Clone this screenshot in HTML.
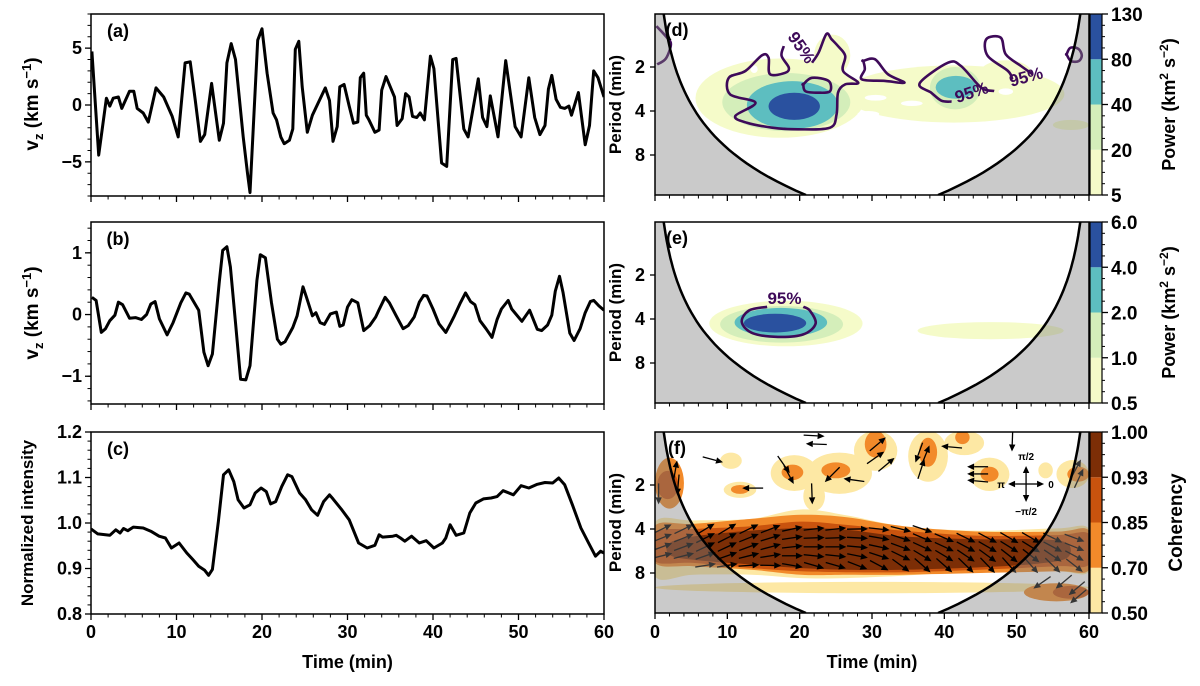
<!DOCTYPE html>
<html><head><meta charset="utf-8">
<style>
html,body{margin:0;padding:0;background:#fff;}
svg{display:block;font-family:"Liberation Sans",Arial,sans-serif;font-weight:bold;}
</style></head>
<body>
<svg id="fig" width="1200" height="686" viewBox="0 0 1200 686" xmlns="http://www.w3.org/2000/svg"></svg>
<script>
// ---------- data: panel (a) vz ----------
const aT=[0.1,0.9,1.8,2.2,2.6,3.2,3.6,4.5,5.0,5.4,6.1,6.7,7.6,8.5,9.5,10.2,11.0,11.6,12.2,12.8,13.3,14.1,15.0,15.5,15.9,16.4,16.9,17.8,18.3,18.6,19.5,20.0,20.6,21.3,21.7,22.2,22.6,23.2,23.6,23.9,24.3,24.7,25.3,25.9,27.4,27.9,28.3,28.8,29.1,29.6,30.2,30.7,31.2,31.5,31.9,32.2,32.5,33.2,33.7,34.0,34.5,35.5,35.8,36.4,36.8,37.2,37.6,38.1,38.5,39.0,39.7,40.1,41.0,41.6,42.3,42.7,43.6,44.1,45.3,45.8,46.3,46.7,47.6,48.5,49.6,50.3,51.2,51.9,52.5,53.1,53.5,53.9,54.4,54.9,55.4,55.9,56.2,57.0,57.8,58.3,58.8,59.3,60.0];
const aV=[4.7,-4.4,0.6,-0.1,0.6,0.7,-0.3,1.2,1.2,-0.3,-0.7,-1.5,1.5,0.7,-1.0,-2.8,3.7,3.8,0.4,-3.2,-2.6,1.9,-3.1,-1.6,3.7,5.4,4.0,-2.8,-6.0,-7.7,5.7,6.7,2.8,-0.7,-1.3,-2.8,-3.4,-3.1,-2.1,4.9,5.6,1.6,-2.4,-0.9,1.5,0.4,-3.2,-1.9,1.6,1.8,-0.1,-1.6,-1.5,2.4,2.8,-0.9,-1.3,-2.4,-2.2,1.3,2.5,0.7,-1.8,-1.2,1.0,0.7,-1.0,-1.1,-0.7,-1.3,4.3,3.2,-5.1,-5.4,4.0,4.1,-2.1,-2.8,2.3,-1.1,-1.9,0.8,-2.8,3.9,-1.9,-2.8,2.4,-1.1,-2.6,-1.8,1.4,2.6,0.5,-0.2,-0.3,-0.1,-0.9,1.1,-3.5,-1.8,3.0,2.4,0.7];
// ---------- data: panel (b) filtered vz ----------
const bT=[0.1,0.6,1.2,1.7,2.2,2.8,3.2,3.7,4.5,5.2,5.9,6.5,7.0,7.5,8.0,8.9,9.6,10.5,11.1,11.5,12.6,13.2,13.7,14.2,15.0,15.4,15.9,16.3,16.9,17.5,18.1,18.6,19.4,19.8,20.4,21.1,21.8,22.2,22.7,23.6,24.1,24.8,25.2,25.9,26.3,26.8,27.3,28.0,28.7,29.1,29.5,30.0,30.5,31.2,31.9,32.6,33.3,33.7,34.4,34.9,35.7,36.5,37.1,37.8,38.4,38.9,39.3,40.0,40.7,41.5,42.1,42.5,43.2,43.8,44.4,44.9,45.5,46.2,46.9,47.5,48.0,48.8,49.2,50.4,51.3,52.2,52.7,53.4,53.9,54.3,54.8,55.2,56.0,56.5,57.2,57.8,58.4,58.8,59.4,60.0];
const bV=[0.28,0.23,-0.29,-0.23,-0.10,-0.01,0.20,0.16,-0.06,-0.05,-0.08,0.0,0.17,0.21,-0.07,-0.33,-0.13,0.19,0.35,0.33,0.07,-0.61,-0.83,-0.64,0.53,1.04,1.10,0.77,-0.13,-1.05,-1.06,-0.83,0.55,0.97,0.92,0.20,-0.40,-0.48,-0.44,-0.21,-0.02,0.45,0.28,-0.02,0.03,-0.13,-0.16,0.01,0.04,-0.19,-0.17,0.12,0.24,0.19,-0.26,-0.18,-0.04,0.08,0.28,0.19,-0.02,-0.23,-0.18,-0.04,0.20,0.31,0.30,0.09,-0.15,-0.29,-0.13,-0.02,0.19,0.35,0.21,0.16,-0.10,-0.23,-0.37,-0.08,0.09,0.23,0.09,-0.11,0.07,-0.24,-0.26,-0.17,-0.01,0.38,0.62,0.36,-0.30,-0.42,-0.23,0.03,0.21,0.23,0.14,0.07];
// ---------- data: panel (c) normalized intensity ----------
const cT=[0,0.8,2.2,2.9,3.4,3.8,4.3,4.95,6.1,7.0,7.96,8.7,9.4,10.3,11.2,11.9,12.6,13.3,13.75,14.2,14.9,15.5,16.1,16.7,17.2,17.9,18.6,19.2,19.9,20.5,21.0,21.6,22.3,23.0,23.5,24.4,25.1,25.8,26.5,27.2,27.9,28.3,29.25,30.2,31.3,32.3,33.2,33.7,34.1,35.3,35.7,36.2,36.7,37.5,38.4,39.2,40.1,41.1,41.5,42.0,42.7,43.6,44.3,45.0,45.9,46.8,47.5,48.2,49.4,50.3,51.2,52.2,53.1,54.0,54.7,55.4,56.3,57.3,58.2,59.0,59.6,60.0];
const cV=[0.987,0.976,0.973,0.985,0.978,0.988,0.983,0.991,0.989,0.982,0.971,0.967,0.945,0.956,0.934,0.920,0.905,0.896,0.885,0.898,1.004,1.106,1.117,1.091,1.051,1.033,1.040,1.066,1.077,1.069,1.042,1.047,1.080,1.106,1.102,1.066,1.051,1.029,1.017,1.047,1.062,1.053,1.031,1.007,0.956,0.945,0.951,0.974,0.969,0.971,0.973,0.967,0.960,0.971,0.956,0.961,0.945,0.956,0.967,0.996,0.973,0.978,1.022,1.044,1.053,1.055,1.058,1.071,1.062,1.082,1.077,1.085,1.089,1.088,1.099,1.084,1.040,0.989,0.956,0.927,0.938,0.934];
// ---------- tick labels ----------
const aTicks=[5,0,-5], bTicks=[1,0,-1], cTicks=[0.8,0.9,1.0,1.1,1.2];
const timeTicks=[0,10,20,30,40,50,60];
const periodTicks=[2,4,8];
const dLevels=["5","20","40","80","130"], eLevels=["0.5","1.0","2.0","4.0","6.0"], fLevels=["0.50","0.70","0.85","0.93","1.00"];
const coiK=0.72;
// ---------- wavelet power blobs: [t0,t1,P0,P1,level] ----------
const dBlobs=[[5.6,29,1.75,6.1,0],[26,56.6,1.95,4.8,0],[22,27,1.2,2.3,0],[55,60,4.6,5.4,0],[45,52,1.8,2.6,0],
  [13.2,14.2,1.95,2.2,-1],[20.5,23.5,2.5,2.85,-1],[29,32,3.1,3.4,-1],[34,37,3.4,3.7,-1],[28,31,4.0,4.4,-1],[47.5,49.5,2.8,3.1,-1],
  [9.3,27,2.2,5.5,1],[38,45,2.0,3.9,1],[12.7,25.3,2.5,5.3,2],[38.8,44.4,2.3,3.3,2],[15.7,22.8,3.0,4.6,3]];
const eBlobs=[[7.5,28.7,3.0,6.15,0],[36.3,56.5,4.2,5.5,0],[9,26,3.26,5.8,1],[11,23.8,3.36,5.3,2],[12.3,20.9,3.68,4.95,3]];
// 95% significance contours [t,P]
const dC1=[[17.8,1.44],[17.5,1.68],[18.5,2.02],[18.0,2.19],[15.9,2.24],[15.7,1.73],[14.8,1.66],[12.5,2.13],[10.2,2.37],[10.4,3.08],[13.9,3.51],[11.1,4.33],[12.7,4.81],[16.2,5.2],[19.8,5.34],[24.2,5.2],[25.1,4.21],[25.3,3.0],[26.3,2.63],[28.1,2.56],[26.0,2.13],[26.3,1.68],[25.3,1.44],[24.4,1.29],[23.7,1.19],[22.6,1.60],[21.7,1.87]];
const dC2=[[20.5,2.63],[21.7,2.37],[24.0,2.49],[24.2,2.93],[22.6,3.0],[20.8,2.93],[20.5,2.63]];
const dC3=[[28.8,1.82],[30.4,1.77],[32.2,2.24],[34.5,2.56],[31.8,2.49],[28.6,2.43],[29.0,2.07],[28.8,1.82]];
const dC4=[[41.0,3.45],[39.6,3.4],[38.2,3.0],[36.6,2.58],[40.5,1.87],[42.3,1.97],[45.1,2.77],[46.9,2.92]];
const dC5=[[49.4,2.43],[48.8,2.13],[46.0,1.68],[45.8,1.29],[47.8,1.26],[48.5,1.64],[50.6,1.97],[52.2,2.24]];
const dC6=[[56.9,1.64],[57.4,1.48],[58.5,1.5],[59.0,1.66],[58.6,1.82],[57.5,1.82],[56.9,1.64]];
const dC7=[[0.2,1.05],[1.6,1.25],[2.2,1.40],[1.5,1.75],[0.3,1.92]];
const eC1=[[15.5,3.3],[13.0,3.5],[12.0,4.2],[13.5,5.0],[17.0,5.3],[20.5,5.1],[22.2,4.3],[21.4,3.5],[20.5,3.3]];
// ---------- coherence band edges ----------
const fT=[0,5.3,13.3,20.2,26.5,34.4,45,55.6,60];
const f0Top=[3.60,3.50,3.41,2.94,3.23,3.83,4.11,3.96,4.0], f0Bot=[8.44,8.22,8.22,8.67,8.67,8.35,7.79,7.79,7.79];
const f1Top=[3.79,3.69,3.41,3.20,3.32,3.83,4.17,4.17,4.11], f1Bot=[6.82,7.19,7.59,8.22,8.22,8.22,8.0,7.79,7.59];
const f2Top=[4.22,4.0,3.83,3.56,3.75,4.11,4.45,4.40,4.33], f2Bot=[6.64,6.82,7.39,7.79,7.9,7.9,7.6,7.2,7.0];
const f3T=[2,5.3,13.3,20.2,26.5,34.4,45,53,57];
const f3Top=[5.0,4.5,4.1,3.95,4.05,4.5,4.7,4.7,5.0], f3Bot=[6.0,6.5,7.0,7.4,7.6,7.6,7.3,6.9,6.3];
const fBlobs=[[0,4,1.3,2.9,1],[0.3,3.2,1.6,2.5,2],[9,12,1.2,1.55,0],[9.5,14,1.9,2.45,0],[10.5,13,2.0,2.3,1],[16,22.5,1.25,2.2,0],[17.5,20.5,1.45,1.85,1],[20.5,23.5,1.9,3.0,0],[21,30,1.2,2.3,0],[23,27,1.4,1.8,1],[27.5,33.5,0.85,1.6,0],[29,32,0.85,1.3,1],[35,40.5,0.85,1.9,0],[36.5,39,0.95,1.5,1],[40,45.5,0.85,1.25,0],[41.5,43.5,0.85,1.05,1],[43.5,49,1.3,2.2,0],[45,47.5,1.5,1.9,1],[53,55,1.4,1.8,0],[55.5,60,1.35,2.1,0],[57,60,1.5,1.9,1],[0,60,9.2,11.0,0],[51,60,9.4,12.5,1],[55,60,9.8,12,2]];
// band arrows: column times, angles (deg), row periods, row offsets
const arrT=[1,4,7,10,13,16,19,22,25,28,31,34,37,40,43,46,49,52,55,58];
const arrA=[20,20,25,25,20,15,6,0,0,-5,-12,-20,-25,-25,-28,-30,-32,-32,-28,-22];
const arrP=[4.0,4.6,5.3,6.1,7.1];
const arrOff=[6,2,0,-6,-16];
// isolated arrows [t,P,angle]
const fArrows=[[8,1.34,-15],[13.5,2.1,180],[22,0.92,-3],[22.3,1.05,178],[17.8,1.45,-55],[18.5,1.7,-62],[21.7,2.3,-88],[24.5,1.7,-135],[27.5,1.85,172],[30.5,1.3,35],[30.8,1.05,40],[32,1.45,40],[36.8,1.55,72],[37.4,1.25,68],[36.5,1.2,-110],[44.6,1.5,180],[44.6,1.68,180],[44.6,1.88,175],[41,1.1,175],[49.4,1.0,-92],[58.2,1.55,62],[58.6,1.8,65],[53.5,9.3,-145],[56.5,9.2,-140],[58.3,10.2,-140],[58.5,11.6,-140],[0.5,2.3,-90],[2.8,1.6,80],[3.2,2.0,-95]];

// ---------- helpers ----------
const NS="http://www.w3.org/2000/svg";
const svg=document.getElementById('fig');
function el(tag,attrs,parent){const e=document.createElementNS(NS,tag);for(const k in attrs)e.setAttribute(k,attrs[k]);(parent||svg).appendChild(e);return e;}
function txt(s,x,y,size,anchor,parent,rot){const e=el('text',{x:x,y:y,'font-size':size,'text-anchor':anchor||'middle',fill:'#000'},parent);if(rot!==undefined)e.setAttribute('transform','rotate('+rot+' '+x+' '+y+')');e.textContent=s;return e;}
const LX0=91,LX1=604;
const xL=t=>LX0+t*(LX1-LX0)/60;
const RX0=655,RX1=1089;
const xR=t=>RX0+t*(RX1-RX0)/60;
const PH=181;
function yP(top,P){return top+53+44*Math.log2(P/2);}
function lineD(xs,ys){return xs.map((x,i)=>(i?'L':'M')+x.toFixed(1)+' '+ys[i].toFixed(1)).join('');}
function smoothD(pts,closed){
  const n=pts.length;let d='M'+pts[0][0].toFixed(1)+' '+pts[0][1].toFixed(1);
  for(let i=0;i<(closed?n:n-1);i++){
    const p0=pts[(i-1+n)%n],p1=pts[i],p2=pts[(i+1)%n],p3=pts[(i+2)%n];
    const q0=(!closed&&i===0)?p1:p0, q3=(!closed&&i+2>=n)?p2:p3;
    const c1=[p1[0]+(p2[0]-q0[0])/6,p1[1]+(p2[1]-q0[1])/6],c2=[p2[0]-(q3[0]-p1[0])/6,p2[1]-(q3[1]-p1[1])/6];
    d+='C'+c1[0].toFixed(1)+' '+c1[1].toFixed(1)+' '+c2[0].toFixed(1)+' '+c2[1].toFixed(1)+' '+p2[0].toFixed(1)+' '+p2[1].toFixed(1);
  }
  return d+(closed?'Z':'');
}
function interp(xs,ys,x){if(x<=xs[0])return ys[0];for(let i=1;i<xs.length;i++){if(x<=xs[i]){const f=(x-xs[i-1])/(xs[i]-xs[i-1]);return ys[i-1]+f*(ys[i]-ys[i-1]);}}return ys[ys.length-1];}

// ---------- left line panels ----------
function linePanel(name,top,lo,hi,T,V,ticks,minorStep,label,tickFmt,showX){
  const g=el('g',{});
  
  
  const y=v=>top+(hi-v)/(hi-lo)*182;
  const cid='clip-'+name;
  const cp=el('clipPath',{id:cid},g);el('rect',{x:LX0,y:top,width:LX1-LX0,height:182},cp);
  const ln=el('path',{d:lineD(T.map(xL),V.map(y)),fill:'none',stroke:'#000','stroke-width':3,'stroke-linejoin':'round','clip-path':'url(#'+cid+')'},g);
  
  
  el('rect',{x:LX0,y:top,width:LX1-LX0,height:182,fill:'none',stroke:'#000','stroke-width':1.5},g);
  const start=Math.ceil((lo-1e-9)/minorStep);
  for(let k=start;k*minorStep<=hi+1e-9;k++){const v=k*minorStep;const yy=y(v);el('line',{x1:LX0-3.5,x2:LX0,y1:yy,y2:yy,stroke:'#000','stroke-width':1},g);}
  ticks.forEach(v=>{const yy=y(v);el('line',{x1:LX0-6,x2:LX0,y1:yy,y2:yy,stroke:'#000','stroke-width':1.3},g);
    const t=txt(tickFmt(v),LX0-9,yy+6,18,'end',g);});
  for(let t=0;t<=60;t+=2){const xx=xL(t);const maj=t%10===0;el('line',{x1:xx,x2:xx,y1:top+182,y2:top+182+(maj?6:3.5),stroke:'#000','stroke-width':maj?1.3:1},g);}
  if(showX)timeTicks.forEach(t=>{const l=txt(String(t),xL(t),top+182+24,18,'middle',g);});
  const pl=txt(label,LX0+27,top+23,18,'middle',g);
  
  
}
linePanel('panel-a',14,-8,8,aT,aV,aTicks,1,'(a)',v=>v<0?'\u2212'+(-v):String(v),false);
linePanel('panel-b',222,-1.45,1.5,bT,bV,bTicks,0.2,'(b)',v=>v<0?'\u2212'+(-v):String(v),false);
linePanel('panel-c',432,0.8,1.2,cT,cV,cTicks,0.02,'(c)',v=>v.toFixed(1),true);

function vzTitle(cy){const t=el('text',{x:0,y:0,'font-size':19,'text-anchor':'middle',transform:'translate(38 '+cy+') rotate(-90)'});
  
  t.innerHTML='v<tspan font-size="13" dy="5">z</tspan><tspan dy="-5"> (km s</tspan><tspan font-size="13" dy="-7">\u22121</tspan><tspan dy="7">)</tspan>';}
vzTitle(104);vzTitle(313);
(function(){const t=el('text',{x:0,y:0,'font-size':17,'text-anchor':'middle',transform:'translate(33 523) rotate(-90)'});t.textContent='Normalized intensity';})();
(function(){const t=txt('Time (min)',xL(30),668,18);
 const t2=txt('Time (min)',xR(30),668,18);})();

// ---------- right wavelet panels ----------
const dCols=['#f5fbc9','#d4eeba','#5dbec0','#2a519f'];
const fCols=['#fde8a4','#f28a2a','#c9530e','#7c2e06'];
function rightPanel(name,top,label,drawContent,levels,cols,cbTitle,showX,cbTitleSize,cbTitleX){
  const g=el('g',{});
  
  
  const cid='clip-'+name;
  const cp=el('clipPath',{id:cid},g);el('rect',{x:RX0,y:top,width:RX1-RX0,height:PH},cp);
  const inner=el('g',{'clip-path':'url(#'+cid+')'},g);
  drawContent(inner,top);
  const Ptop=2*Math.pow(2,-53/44), Pbot=2*Math.pow(2,(PH-53)/44);
  let L=[[xR(0),top]],R=[[xR(60),top]],cl=[],cr=[];
  for(let i=0;i<=40;i++){const P=Ptop*Math.pow(Pbot/Ptop,i/40);const t=P/coiK;cl.push([xR(t),yP(top,P)]);cr.push([xR(60-t),yP(top,P)]);}
  L=L.concat(cl,[[xR(0),top+PH]]);R=R.concat(cr,[[xR(60),top+PH]]);
  const gl=el('path',{d:'M'+L.map(p=>p[0].toFixed(1)+' '+p[1].toFixed(1)).join('L')+'Z',fill:'#808080','fill-opacity':0.42},inner);
  
  
  const gr=el('path',{d:'M'+R.map(p=>p[0].toFixed(1)+' '+p[1].toFixed(1)).join('L')+'Z',fill:'#808080','fill-opacity':0.42},inner);
  
  
  el('path',{d:'M'+cl.map(p=>p[0].toFixed(1)+' '+p[1].toFixed(1)).join('L'),fill:'none',stroke:'#000','stroke-width':2.5},inner);
  el('path',{d:'M'+cr.map(p=>p[0].toFixed(1)+' '+p[1].toFixed(1)).join('L'),fill:'none',stroke:'#000','stroke-width':2.5},inner);
  el('rect',{x:RX0,y:top,width:RX1-RX0,height:PH,fill:'none',stroke:'#000','stroke-width':1.5},g);
  periodTicks.forEach(P=>{const yy=yP(top,P);el('line',{x1:RX0-5,x2:RX0,y1:yy,y2:yy,stroke:'#000','stroke-width':1.3},g);
    const l=txt(String(P),RX0-10,yy+6,18,'end',g);});
  for(let t=0;t<=60;t+=2){const xx=xR(t);const maj=t%10===0;el('line',{x1:xx,x2:xx,y1:top+PH,y2:top+PH+(maj?6:3.5),stroke:'#000','stroke-width':maj?1.3:1},g);}
  if(showX)timeTicks.forEach(t=>{const l=txt(String(t),xR(t),top+PH+25,18,'middle',g);});
  const yt=el('text',{x:0,y:0,'font-size':17,'text-anchor':'middle',transform:'translate(621 '+(top+PH/2)+') rotate(-90)'},g);
  
  
  yt.textContent='Period (min)';
  const pl=txt(label,RX0+22,top+22,18,'middle',g);
  
  
  const cb=el('g',{},g);
  
  
  const CX=RX1+1,CW=12,bh=PH/4;
  for(let i=0;i<4;i++){el('rect',{x:CX,y:top+PH-(i+1)*bh,width:CW,height:bh,fill:cols[i]},cb);}
  el('rect',{x:CX,y:top,width:CW,height:PH,fill:'none',stroke:'#000','stroke-width':1.2},cb);
  for(let i=0;i<4;i++)for(let k=1;k<4;k++){const yy=top+PH-i*bh-k*bh/4;el('line',{x1:CX+CW,x2:CX+CW+3,y1:yy,y2:yy,stroke:'#000','stroke-width':1},cb);}
  levels.forEach((s,i)=>{const yy=top+PH-i*bh;el('line',{x1:CX+CW,x2:CX+CW+6,y1:yy,y2:yy,stroke:'#000','stroke-width':1.3},cb);
    const l=txt(s,CX+CW+9,yy+7,19,'start',cb);});
  const ct=el('text',{x:0,y:0,'font-size':cbTitleSize||18,'text-anchor':'middle',transform:'translate('+(cbTitleX||1177)+' '+(top+PH/2)+') rotate(-90)'},cb);
  
  
  ct.innerHTML=cbTitle;
}
function blob(g,top,b,cols){const [t0,t1,P0,P1,lv]=b;const cx=(xR(t0)+xR(t1))/2,cy=(yP(top,P0)+yP(top,P1))/2;
  const e=el('ellipse',{cx:cx,cy:cy,rx:(xR(t1)-xR(t0))/2,ry:(yP(top,P1)-yP(top,P0))/2,fill:lv<0?'#fff':cols[lv]},g);
  
  }
function contour(g,top,pts,closed){const p=el('path',{d:smoothD(pts.map(q=>[xR(q[0]),yP(top,q[1])]),closed),fill:'none',stroke:'#3e0a59','stroke-width':2.6},g);
  
  }
function clabel(g,top,t,P,rot){const x=xR(t),y=yP(top,P);const l=txt('95%',x,y,17,'middle',g,rot);l.setAttribute('fill','#3e0a59');}

const powTitle='Power (km<tspan font-size="12" dy="-7">2</tspan><tspan dy="7"> s</tspan><tspan font-size="12" dy="-7">\u22122</tspan><tspan dy="7">)</tspan>';
rightPanel('panel-d',14,'(d)',(g,top)=>{
  [0,-1,1,2,3].forEach(lv=>dBlobs.filter(b=>b[4]===lv).forEach(b=>blob(g,top,b,dCols)));
  contour(g,top,dC1,false);contour(g,top,dC2,true);contour(g,top,dC3,true);contour(g,top,dC4,false);contour(g,top,dC5,false);contour(g,top,dC6,true);contour(g,top,dC7,false);
  clabel(g,top,19.6,1.55,55);clabel(g,top,44.0,3.25,-18);clabel(g,top,51.5,2.55,-15);
},dLevels,dCols,powTitle,false,18,1175);
rightPanel('panel-e',222,'(e)',(g,top)=>{
  [0,1,2,3].forEach(lv=>eBlobs.filter(b=>b[4]===lv).forEach(b=>blob(g,top,b,dCols)));
  contour(g,top,eC1,false);clabel(g,top,17.9,3.15,0);
},eLevels,dCols,powTitle,false,18,1175);

function arrow(g,x,y,ang,L){const a=ang*Math.PI/180;const dx=Math.cos(a),dy=-Math.sin(a);
  const x0=x-dx*L/2,y0=y-dy*L/2,x1=x+dx*L/2,y1=y+dy*L/2;
  const h=7,w=3.2;const bx=x1-dx*h,by=y1-dy*h;
  const ag=el('g',{},g);
  
  
  el('line',{x1:x0,y1:y0,x2:bx,y2:by,stroke:'#000','stroke-width':1.3},ag);
  el('path',{d:'M'+x1+' '+y1+'L'+(bx-dy*w)+' '+(by+dx*w)+'L'+(bx+dy*w)+' '+(by-dx*w)+'Z',fill:'#000'},ag);}
function band(g,top,T,Top,Bot,col){const up=T.map((t,i)=>[xR(t),yP(top,Top[i])]);const dn=T.map((t,i)=>[xR(t),yP(top,Bot[i])]).reverse();
  const pts=up.concat(dn);const p=el('path',{d:smoothD(pts,true),fill:col},g);
  
  }
rightPanel('panel-f',432,'(f)',(g,top)=>{
  band(g,top,fT,f0Top,f0Bot,fCols[0]);
  fBlobs.filter(b=>b[4]===0).forEach(b=>blob(g,top,b,fCols));
  band(g,top,fT,f1Top,f1Bot,fCols[1]);
  fBlobs.filter(b=>b[4]===1).forEach(b=>blob(g,top,b,fCols));
  band(g,top,fT,f2Top,f2Bot,fCols[2]);
  fBlobs.filter(b=>b[4]===2).forEach(b=>blob(g,top,b,fCols));
  band(g,top,f3T,f3Top,f3Bot,fCols[3]);
  arrT.forEach((t,i)=>arrP.forEach((P,j)=>{const lo=interp(fT,f1Top,t),hi=interp(fT,f1Bot,t);if(P>=lo&&P<=hi)arrow(g,xR(t),yP(top,P),arrA[i]+arrOff[j],21);}));
  fArrows.forEach(a=>arrow(g,xR(a[0]),yP(top,a[1]),a[2],21));
},fLevels,fCols,'Coherency',true,19,1182);
// phase key
(function(){const g=el('g',{});
  const cx=xR(51.3),cy=yP(432,2.0)-1;
  [0,90,180,270].forEach(a=>arrow(g,cx+Math.cos(a*Math.PI/180)*9,cy-Math.sin(a*Math.PI/180)*9,a,18));
  txt('0',cx+25,cy+4,10,'middle',g);txt('\u03c0/2',cx,cy-24,10,'middle',g);txt('\u03c0',cx-25,cy+4,10,'middle',g);txt('\u2212\u03c0/2',cx,cy+31,10,'middle',g);})();
</script>
</body></html>
